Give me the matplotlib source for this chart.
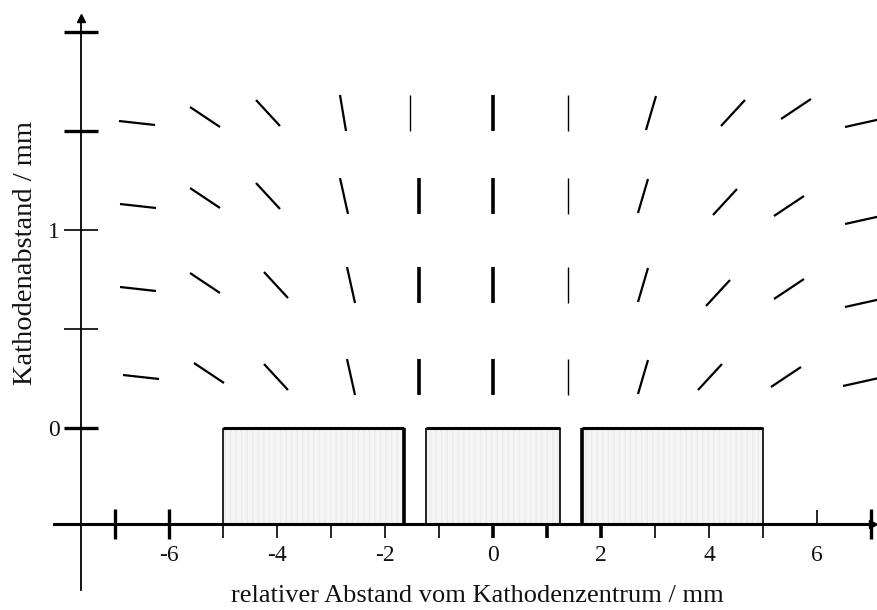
import numpy as np
import matplotlib
matplotlib.use("Agg")
import matplotlib.pyplot as plt
import matplotlib.lines as mlines
from matplotlib.markers import MarkerStyle
from matplotlib.transforms import Affine2D

plt.rcParams['font.family'] = ['Liberation Serif', 'DejaVu Serif']

# field direction segments, rows from top to bottom
seg_x = [
    [-6.59, -5.33, -4.16, -2.77, -1.54, 0.0, 1.39, 2.92, 4.44, 5.62, 6.85],
    [-6.58, -5.33, -4.16, -2.76, -1.37, 0.0, 1.39, 2.78, 4.30, 5.48, 6.85],
    [-6.58, -5.33, -4.02, -2.63, -1.37, 0.0, 1.39, 2.78, 4.17, 5.48, 6.85],
    [-6.51, -5.26, -4.02, -2.63, -1.37, 0.0, 1.39, 2.78, 4.02, 5.42, 6.81],
]
seg_y = [
    [1.54, 1.57, 1.59, 1.59, 1.59, 1.59, 1.59, 1.59, 1.59, 1.61, 1.54],
    [1.12, 1.16, 1.17, 1.17, 1.17, 1.17, 1.17, 1.17, 1.14, 1.12, 1.05],
    [0.70, 0.73, 0.72, 0.72, 0.72, 0.72, 0.72, 0.72, 0.68, 0.70, 0.63],
    [0.26, 0.28, 0.26, 0.26, 0.26, 0.26, 0.26, 0.26, 0.26, 0.26, 0.23],
]
seg_angle = [
    [-7.6, -32.0, -46.5, -79.0, 90, 90, 90, 74, 47.7, 32, 12],
    [-7.0, -32.5, -47.0, -78.0, 90, 90, 90, 74, 48.0, 32, 13],
    [-6.7, -32.5, -47.6, -77.0, 90, 90, 90, 74, 48.0, 32, 13],
    [-7.6, -33.0, -47.6, -78.0, 90, 90, 90, 74, 47.0, 32, 13],
]
seg_width = [
    [1.6, 1.6, 1.6, 1.6, 1.0, 2.6, 1.0, 1.6, 1.6, 1.6, 1.6],
    [1.6, 1.6, 1.6, 1.6, 2.6, 2.6, 1.0, 1.6, 1.6, 1.6, 1.6],
    [1.6, 1.6, 1.6, 1.6, 2.6, 2.6, 1.0, 1.6, 1.6, 1.6, 1.6],
    [1.6, 1.6, 1.6, 1.6, 2.6, 2.6, 1.0, 1.6, 1.6, 1.6, 1.6],
]

# cathode segments
box_left = [-5.0, -1.24, 1.65]
box_right = [-1.65, 1.24, 5.0]
box_lw_left = [1.2, 1.2, 2.6]
box_lw_right = [2.6, 1.2, 1.2]

x_ticks = [-7, -6, -5, -4, -3, -2, -1, 0, 1, 2, 3, 4, 5, 6, 7]
x_labels = ['', '-6', '', '-4', '', '-2', '', '0', '', '2', '', '4', '', '6', '']
y_ticks = [0, 0.5, 1, 1.5, 2]
y_labels = ['0', '', '1', '', '']

x_axis_y = -0.485
y_axis_x = -7.63

fig = plt.figure(figsize=(8.77, 6.10), dpi=100)
ax = fig.add_axes([0, 0, 1, 1])
ax.set_xlim(-493 / 54, 384 / 54)
ax.set_ylim(-182 / 198, 428 / 198)

for s in ['top', 'right']:
    ax.spines[s].set_visible(False)
ax.spines['bottom'].set_position(('data', x_axis_y))
ax.spines['bottom'].set_bounds(-8.13, 7.02)
ax.spines['bottom'].set_linewidth(2.2)
ax.spines['left'].set_position(('data', y_axis_x))
ax.spines['left'].set_bounds(-0.82, 2.07)
ax.spines['left'].set_linewidth(1.3)

# arrow heads
ax.plot(7.03, x_axis_y, marker='>', markersize=6, color='black', clip_on=False)
ax.plot(y_axis_x, 2.07, marker='^', markersize=6, color='black', clip_on=False)

ax.set_xticks(x_ticks)
ax.set_xticklabels(x_labels)
ax.tick_params(axis='x', direction='out', length=10, width=1.2, pad=5,
               labelsize=17, labelcolor='#111111')
ax.set_yticks(y_ticks)
ax.set_yticklabels(y_labels)
ax.tick_params(axis='y', direction='inout', length=24, width=1.2, pad=3,
               labelsize=17, labelcolor='#111111')

# individual tick styles
for pos, tick in zip(x_ticks, ax.xaxis.get_major_ticks()):
    if pos in (-7, -6, 7):
        tick.tick1line.set_marker('|')
        tick.tick1line.set_markersize(21)
        tick.tick1line.set_markeredgewidth(2.4)
    elif pos == 6:
        tick.tick1line.set_marker(mlines.TICKUP)
        tick.tick1line.set_markersize(10)
    elif pos in (0, 1, 2):
        tick.tick1line.set_markeredgewidth(2.6)
for pos, tick in zip(y_ticks, ax.yaxis.get_major_ticks()):
    if pos in (0, 1.5, 2):
        tick.tick1line.set_markeredgewidth(2.4)

# cathodes
widths = np.array(box_right) - np.array(box_left)
ax.bar(box_left, -x_axis_y, width=widths, bottom=x_axis_y, align='edge',
       color='#f5f5f5', edgecolor='#ebebeb', hatch='|||', linewidth=0, zorder=1)
ax.hlines([0] * len(box_left), box_left, box_right, color='black', linewidth=2.2, zorder=2)
for i in range(len(box_left)):
    ax.vlines(box_left[i], x_axis_y, 0, color='black', linewidth=box_lw_left[i], zorder=2)
    ax.vlines(box_right[i], x_axis_y, 0, color='black', linewidth=box_lw_right[i], zorder=2)

# direction segments
for j in range(len(seg_x)):
    for i in range(len(seg_x[j])):
        m = MarkerStyle('|', transform=Affine2D().rotate_deg(seg_angle[j][i] - 90))
        ax.plot(seg_x[j][i], seg_y[j][i], marker=m, markersize=26,
                markeredgewidth=seg_width[j][i], color='black', linestyle='none')

fig.text(477 / 877, 1 - 596 / 610, 'relativer Abstand vom Kathodenzentrum / mm',
         ha='center', va='center', fontsize=19, color='#111111')
fig.text(26 / 877, 1 - 253 / 610, 'Kathodenabstand / mm', rotation=90,
         ha='center', va='center', fontsize=20.5, color='#111111')

fig.savefig('out.png', dpi=100)
